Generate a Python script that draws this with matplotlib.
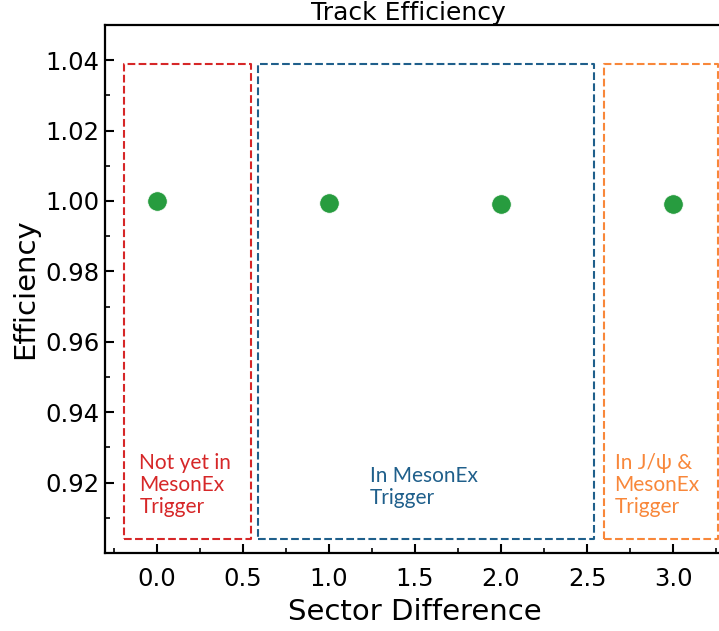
import matplotlib
matplotlib.use("Agg")
import matplotlib.pyplot as plt
from matplotlib.ticker import MultipleLocator

sector_diff = [0, 1, 2, 3]
efficiency = [0.99997, 0.9995, 0.9991, 0.9991]

# trigger regions: (x0, x1, label, colour, text x, text top)
regions = [
    (-0.19, 0.55, "Not yet in\nMesonEx\nTrigger", "#d62728", -0.10, 0.9285),
    (0.59, 2.54, "In MesonEx\nTrigger", "#1f5f8b", 1.24, 0.9248),
    (2.60, 3.26, "In J/\u03c8 &\nMesonEx\nTrigger", "#f8873a", 2.66, 0.9285),
]
box_bottom = 0.904
box_top = 1.039


def main():
    fig = plt.figure(figsize=(7.19, 6.31), dpi=100)
    ax = fig.add_axes([0.146, 0.1236, 0.862, 0.8368])

    for x0, x1, label, color, tx, ty in regions:
        ax.plot([x0, x1, x1, x0, x0], [box_bottom, box_bottom, box_top, box_top, box_bottom],
                ls="--", lw=1.5, color=color)
        ax.text(tx, ty, label, color=color, fontsize=15, va="top", ha="left",
                linespacing=1.15, family="Lato")

    ax.plot(sector_diff, efficiency, "o", color="#279c3f", ms=14, mec="white", mew=0.5)

    ax.set_xlim(-0.3, 3.3)
    ax.set_ylim(0.90, 1.05)
    ax.set_yticks([0.92, 0.94, 0.96, 0.98, 1.00, 1.02, 1.04])
    ax.set_xticks([0.0, 0.5, 1.0, 1.5, 2.0, 2.5, 3.0])
    ax.xaxis.set_minor_locator(MultipleLocator(0.25))
    ax.yaxis.set_minor_locator(MultipleLocator(0.01))
    ax.set_yticklabels(["%.2f" % v for v in ax.get_yticks()])
    ax.set_xticklabels(["%.1f" % v for v in ax.get_xticks()])
    ax.tick_params(which="major", direction="in", length=6.5, width=1.5, labelsize=17.5)
    ax.tick_params(axis="x", which="major", pad=10)
    ax.tick_params(axis="y", which="major", pad=4)
    ax.tick_params(which="minor", direction="in", length=3.5, width=1.2)
    for s in ax.spines.values():
        s.set_linewidth(1.6)

    ax.set_xlabel("Sector Difference", fontsize=21, labelpad=5)
    ax.set_ylabel("Efficiency", fontsize=21, labelpad=4)
    title = ax.set_title("Track Efficiency", fontsize=18, pad=1)
    title.set_x(0.49)

    fig.savefig("out.png", dpi=100)


if __name__ == "__main__":
    main()
